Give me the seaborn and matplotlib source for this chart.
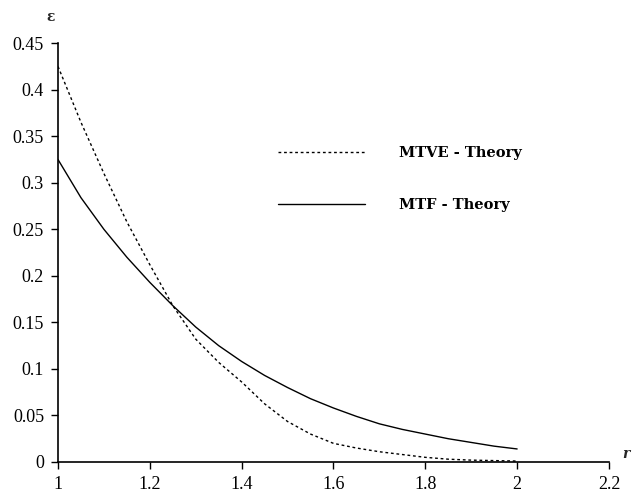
import matplotlib
matplotlib.use("Agg")
import matplotlib.pyplot as plt
import pandas as pd
import seaborn as sns
import numpy as np

r = [1.0, 1.05, 1.1, 1.15, 1.2, 1.25, 1.3, 1.35, 1.4, 1.45, 1.5,
     1.55, 1.6, 1.65, 1.7, 1.75, 1.8, 1.85, 1.9, 1.95, 2.0]
mtve = [0.425, 0.365, 0.31, 0.258, 0.212, 0.168, 0.132, 0.107, 0.086, 0.0625, 0.0435,
        0.030, 0.020, 0.015, 0.011, 0.008, 0.005, 0.003, 0.002, 0.0015, 0.001]
mtf = [0.325, 0.284, 0.250, 0.220, 0.193, 0.168, 0.145, 0.125, 0.108, 0.093, 0.080,
       0.068, 0.058, 0.049, 0.041, 0.035, 0.030, 0.025, 0.021, 0.017, 0.014]

x_ticks = [1, 1.2, 1.4, 1.6, 1.8, 2, 2.2]
y_ticks = [0, 0.05, 0.1, 0.15, 0.2, 0.25, 0.3, 0.35, 0.4, 0.45]

df = pd.DataFrame({"r": r, "MTVE - Theory": mtve, "MTF - Theory": mtf})
df_long = df.melt(id_vars="r", var_name="curve", value_name="val")

sns.set_style("ticks")
plt.rcParams['font.family'] = ['Liberation Serif', 'DejaVu Serif']

fig = plt.figure(figsize=(6.34, 4.95), dpi=100)
ax = fig.add_axes([0.0915, 0.0667, 0.869, 0.846])

sns.lineplot(data=df_long, x="r", y="val", style="curve", color="black",
             dashes={"MTVE - Theory": (2, 2), "MTF - Theory": ""},
             linewidth=1.0, ax=ax)

ax.set_xlim(1, 2.2)
ax.set_ylim(0, 0.45)
ax.set_xticks(x_ticks)
ax.set_xticklabels([f"{t:g}" for t in x_ticks])
ax.set_yticks(y_ticks)
ax.set_yticklabels([f"{t:g}" for t in y_ticks])
ax.tick_params(labelsize=13, length=5, width=1, color="black", labelcolor="black", pad=5)
for s in ["left", "bottom"]:
    ax.spines[s].set_color("black")
    ax.spines[s].set_linewidth(1.2)
sns.despine(ax=ax)
ax.set_xlabel("")
ax.set_ylabel("")

ax.text(-0.013, 1.062, "ε", transform=ax.transAxes, fontsize=10, fontweight="bold",
        ha="center", va="center", family="DejaVu Serif")
ax.text(1.03, 0.02, "r", transform=ax.transAxes, fontsize=10, fontweight="bold",
        fontstyle="italic", ha="center", va="center", family="DejaVu Serif")

leg = ax.legend(loc="upper left", bbox_to_anchor=(0.375, 0.785), frameon=False,
                handlelength=6.0, handletextpad=2.3, labelspacing=2.6,
                prop={"size": 10.5, "weight": "bold", "family": "DejaVu Serif"})
for t in leg.get_texts():
    t.set_color("black")

fig.savefig("out.png", dpi=100)
